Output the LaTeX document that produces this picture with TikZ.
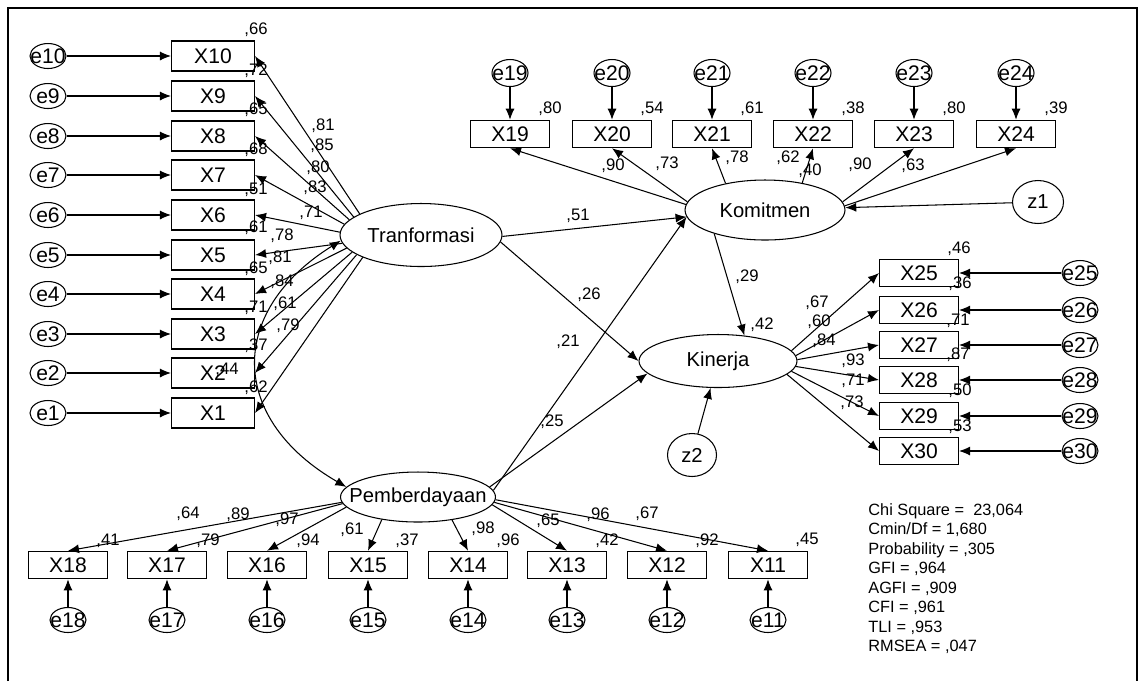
\documentclass[tikz,border=0pt]{standalone}
\usepackage{fontspec}
\setmainfont{Liberation Sans}
\usepackage{tikz}
\usetikzlibrary{shapes.geometric,arrows.meta}

\begin{document}
\begin{tikzpicture}[x=0.02cm,y=-0.02cm,
  ind/.style={draw,line width=0.6pt,minimum width=1.58cm,minimum height=0.55cm,inner sep=0pt,font=\fontsize{12}{12}\selectfont},
  indl/.style={ind,minimum width=1.66cm,minimum height=0.6cm},
  lat/.style={draw,ellipse,line width=0.6pt,inner sep=0pt,font=\fontsize{11.5}{11.5}\selectfont},
  err/.style={draw,ellipse,line width=0.6pt,minimum width=0.72cm,minimum height=0.5cm,inner sep=0pt,font=\fontsize{12}{12}\selectfont},
  val/.style={inner sep=0pt,font=\fontsize{9.5}{9.5}\selectfont},
  arr/.style={line width=0.6pt,-{Latex[length=2.2mm,width=1.8mm]}}]
  \useasboundingbox (0,0) rectangle (1141,681);
  \draw[line width=1pt] (8,681) -- (8,8) -- (1137,8) -- (1137,681);

  \node[lat,minimum width=3.24cm,minimum height=1.26cm] (tr) at (421,235) {\makebox[0pt]{Tranformasi}};
  \node[lat,minimum width=3.1cm,minimum height=1cm] (pb) at (418,497) {\makebox[0pt]{Pemberdayaan}};
  \node[lat,minimum width=3.2cm,minimum height=1.2cm] (km) at (765,210) {\makebox[0pt]{Komitmen}};
  \node[lat,minimum width=3.16cm,minimum height=1.06cm] (kn) at (718,361) {\makebox[0pt]{Kinerja}};
  \node[lat,minimum width=1.02cm,minimum height=0.86cm] (z1) at (1038,202) {\makebox[0pt]{z1}};
  \node[lat,minimum width=0.98cm,minimum height=0.86cm] (z2) at (692,455) {\makebox[0pt]{z2}};

  \node[indl] (x10) at (213,56) {X10};
  \node[indl] (x9) at (213,96) {X9};
  \node[indl] (x8) at (213,136) {X8};
  \node[indl] (x7) at (213,175) {X7};
  \node[indl] (x6) at (213,215) {X6};
  \node[indl] (x5) at (213,255) {X5};
  \node[indl] (x4) at (213,294) {X4};
  \node[indl] (x3) at (213,334) {X3};
  \node[indl] (x2) at (213,373) {X2};
  \node[indl] (x1) at (213,413) {X1};
  \node[err] (e10) at (48,56) {\makebox[0pt]{e10}};
  \node[err] (e9) at (48,96) {\makebox[0pt]{e9}};
  \node[err] (e8) at (48,136) {\makebox[0pt]{e8}};
  \node[err] (e7) at (48,175) {\makebox[0pt]{e7}};
  \node[err] (e6) at (48,215) {\makebox[0pt]{e6}};
  \node[err] (e5) at (48,255) {\makebox[0pt]{e5}};
  \node[err] (e4) at (48,294) {\makebox[0pt]{e4}};
  \node[err] (e3) at (48,334) {\makebox[0pt]{e3}};
  \node[err] (e2) at (48,373) {\makebox[0pt]{e2}};
  \node[err] (e1) at (48,413) {\makebox[0pt]{e1}};

  \node[ind] (x19) at (510,134) {X19};
  \node[ind] (x20) at (612,134) {X20};
  \node[ind] (x21) at (712,134) {X21};
  \node[ind] (x22) at (813,134) {X22};
  \node[ind] (x23) at (914,134) {X23};
  \node[ind] (x24) at (1016,134) {X24};
  \node[err,minimum height=0.54cm] (e19) at (510,73) {\makebox[0pt]{e19}};
  \node[err,minimum height=0.54cm] (e20) at (612,73) {\makebox[0pt]{e20}};
  \node[err,minimum height=0.54cm] (e21) at (712,73) {\makebox[0pt]{e21}};
  \node[err,minimum height=0.54cm] (e22) at (813,73) {\makebox[0pt]{e22}};
  \node[err,minimum height=0.54cm] (e23) at (914,73) {\makebox[0pt]{e23}};
  \node[err,minimum height=0.54cm] (e24) at (1016,73) {\makebox[0pt]{e24}};

  \node[ind] (x18) at (68,565) {X18};
  \node[ind] (x17) at (167,565) {X17};
  \node[ind] (x16) at (267,565) {X16};
  \node[ind] (x15) at (368,565) {X15};
  \node[ind] (x14) at (468,565) {X14};
  \node[ind] (x13) at (567,565) {X13};
  \node[ind] (x12) at (667,565) {X12};
  \node[ind] (x11) at (768,565) {X11};
  \node[err] (e18) at (68,620) {\makebox[0pt]{e18}};
  \node[err] (e17) at (167,620) {\makebox[0pt]{e17}};
  \node[err] (e16) at (267,620) {\makebox[0pt]{e16}};
  \node[err] (e15) at (368,620) {\makebox[0pt]{e15}};
  \node[err] (e14) at (468,620) {\makebox[0pt]{e14}};
  \node[err] (e13) at (567,620) {\makebox[0pt]{e13}};
  \node[err] (e12) at (667,620) {\makebox[0pt]{e12}};
  \node[err] (e11) at (768,620) {\makebox[0pt]{e11}};

  \node[ind] (x25) at (919,273) {X25};
  \node[ind] (x26) at (919,310) {X26};
  \node[ind] (x27) at (919,345) {X27};
  \node[ind] (x28) at (919,380) {X28};
  \node[ind] (x29) at (919,416) {X29};
  \node[ind] (x30) at (919,451) {X30};
  \node[err] (e25) at (1080,273) {\makebox[0pt]{e25}};
  \node[err] (e26) at (1080,310) {\makebox[0pt]{e26}};
  \node[err] (e27) at (1080,345) {\makebox[0pt]{e27}};
  \node[err] (e28) at (1080,380) {\makebox[0pt]{e28}};
  \node[err] (e29) at (1080,416) {\makebox[0pt]{e29}};
  \node[err] (e30) at (1080,451) {\makebox[0pt]{e30}};

  \draw[arr] (e10) -- (x10);
  \draw[arr] (e9) -- (x9);
  \draw[arr] (e8) -- (x8);
  \draw[arr] (e7) -- (x7);
  \draw[arr] (e6) -- (x6);
  \draw[arr] (e5) -- (x5);
  \draw[arr] (e4) -- (x4);
  \draw[arr] (e3) -- (x3);
  \draw[arr] (e2) -- (x2);
  \draw[arr] (e1) -- (x1);
  \draw[arr] (e19) -- (x19);
  \draw[arr] (e20) -- (x20);
  \draw[arr] (e21) -- (x21);
  \draw[arr] (e22) -- (x22);
  \draw[arr] (e23) -- (x23);
  \draw[arr] (e24) -- (x24);
  \draw[arr] (e18) -- (x18);
  \draw[arr] (e17) -- (x17);
  \draw[arr] (e16) -- (x16);
  \draw[arr] (e15) -- (x15);
  \draw[arr] (e14) -- (x14);
  \draw[arr] (e13) -- (x13);
  \draw[arr] (e12) -- (x12);
  \draw[arr] (e11) -- (x11);
  \draw[arr] (e25) -- (x25);
  \draw[arr] (e26) -- (x26);
  \draw[arr] (e27) -- (x27);
  \draw[arr] (e28) -- (x28);
  \draw[arr] (e29) -- (x29);
  \draw[arr] (e30) -- (x30);

  \draw[arr] (tr.161) -- (x10.east);
  \draw[arr] (tr.165) -- (x9.east);
  \draw[arr] (tr.168) -- (x8.east);
  \draw[arr] (tr.172) -- (x7.east);
  \draw[arr] (tr.178) -- (x6.east);
  \draw[arr] (tr.186) -- (x5.east);
  \draw[arr] (tr.190) -- (x4.east);
  \draw[arr] (tr.194) -- (x3.east);
  \draw[arr] (tr.197) -- (x2.east);
  \draw[arr] (tr.201) -- (x1.east);

  \draw[arr] (km.176) -- (x19.south);
  \draw[arr] (km.174) -- (x20.south);
  \draw[arr] (km.146) -- (x21.south);
  \draw[arr] (km.36) -- (x22.south);
  \draw[arr] (km.6) -- (x23.south);
  \draw[arr] (km.3) -- (x24.south);

  \draw[arr] (pb.184) -- (x18.north);
  \draw[arr] (pb.185) -- (x17.north);
  \draw[arr] (pb.188) -- (x16.north);
  \draw[arr] (pb.212) -- (x15.north);
  \draw[arr] (pb.326) -- (x14.north);
  \draw[arr] (pb.354) -- (x13.north);
  \draw[arr] (pb.356) -- (x12.north);
  \draw[arr] (pb.358) -- (x11.north);

  \draw[arr] (kn.8) -- (x25.west);
  \draw[arr] (kn.4) -- (x26.west);
  \draw[arr] (kn.1) -- (x27.west);
  \draw[arr] (kn.356) -- (x28.west);
  \draw[arr] (kn.352) -- (x29.west);
  \draw[arr] (kn.349) -- (x30.west);

  \draw[arr] (tr.359) -- (km.185);
  \draw[arr] (tr.355) -- (kn.180);
  \draw[arr] (pb.5) -- (km.185);
  \draw[arr] (pb.8) -- (kn.190);
  \draw[arr] (km.205) -- (kn.44);
  \draw[arr] (z1) -- (km);
  \draw[arr] (z2) -- (kn);
  \draw[line width=0.6pt,{Latex[length=2.2mm,width=1.8mm]}-{Latex[length=2.2mm,width=1.8mm]}] (tr.184) to[out=212,in=150,looseness=1.4] (pb.172);

  \node[val] (r10) at (256,30) {,66};
  \node[val] (r9) at (256,71) {,72};
  \node[val] (r8) at (256,110) {,65};
  \node[val] (r7) at (256,150) {,68};
  \node[val] (r6) at (256,190) {,51};
  \node[val] (r5) at (256,228) {,61};
  \node[val] (r4) at (256,269) {,65};
  \node[val] (r3) at (256,308) {,71};
  \node[val] (r2) at (256,346) {,37};
  \node[val] (r1) at (256,388) {,62};
  \node[val] (l10) at (323,126) {,81};
  \node[val] (l9) at (322,146) {,85};
  \node[val] (l8) at (318,168) {,80};
  \node[val] (l7) at (315,188) {,83};
  \node[val] (l6) at (311,213) {,71};
  \node[val] (l5) at (282,236) {,78};
  \node[val] (l4) at (280,258) {,81};
  \node[val] (l3) at (282,282) {,84};
  \node[val] (l2) at (285,304) {,61};
  \node[val] (l1) at (288,326) {,79};

  \node[val] (r19) at (550,109) {,80};
  \node[val] (r20) at (652,109) {,54};
  \node[val] (r21) at (752,109) {,61};
  \node[val] (r22) at (853,109) {,38};
  \node[val] (r23) at (954,109) {,80};
  \node[val] (r24) at (1056,109) {,39};
  \node[val] (l19) at (613,166) {,90};
  \node[val] (l20) at (667,164) {,73};
  \node[val] (l21) at (737,158) {,78};
  \node[val] (l22) at (788,158) {,62};
  \node[val] (l23) at (860,165) {,90};
  \node[val] (l24) at (913,166) {,63};

  \node[val] (r18) at (108,541) {,41};
  \node[val] (r17) at (208,541) {,79};
  \node[val] (r16) at (308,541) {,94};
  \node[val] (r15) at (407,541) {,37};
  \node[val] (r14) at (508,541) {,96};
  \node[val] (r13) at (607,541) {,42};
  \node[val] (r12) at (707,541) {,92};
  \node[val] (r11) at (807,540) {,45};
  \node[val] (l18) at (188,514) {,64};
  \node[val] (l17) at (238,515) {,89};
  \node[val] (l16) at (287,520) {,97};
  \node[val] (l15) at (352,530) {,61};
  \node[val] (l14) at (483,529) {,98};
  \node[val] (l13) at (548,521) {,65};
  \node[val] (l12) at (598,515) {,96};
  \node[val] (l11) at (647,514) {,67};

  \node[val] (r25) at (959,249) {,46};
  \node[val] (r26) at (960,284) {,36};
  \node[val] (r27) at (958,321) {,71};
  \node[val] (r28) at (958,355) {,87};
  \node[val] (r29) at (960,391) {,50};
  \node[val] (r30) at (960,427) {,53};
  \node[val] (l25) at (817,303) {,67};
  \node[val] (l26) at (819,322) {,60};
  \node[val] (l27) at (824,341) {,84};
  \node[val] (l28) at (853,361) {,93};
  \node[val] (l29) at (853,381) {,71};
  \node[val] (l30) at (852,403) {,73};

  \node[val] (rkm) at (810,171) {,40};
  \node[val] (rkn) at (762,325) {,42};
  \node[val] (ptrkm) at (578,216) {,51};
  \node[val] (ptrkn) at (589,295) {,26};
  \node[val] (ppbkm) at (568,342) {,21};
  \node[val] (ppbkn) at (552,422) {,25};
  \node[val] (pkmkn) at (747,277) {,29};
  \node[val] (ctrpb) at (227,370) {,44};

  \node[anchor=north west,align=left,inner sep=0pt,font=\fontsize{9.3}{11.1}\selectfont] (fit) at (868,503) {Chi Square = \ 23,064\\Cmin/Df = 1,680\\Probability = ,305\\GFI = ,964\\AGFI = ,909\\CFI = ,961\\TLI = ,953\\RMSEA = ,047};
\end{tikzpicture}
\end{document}
